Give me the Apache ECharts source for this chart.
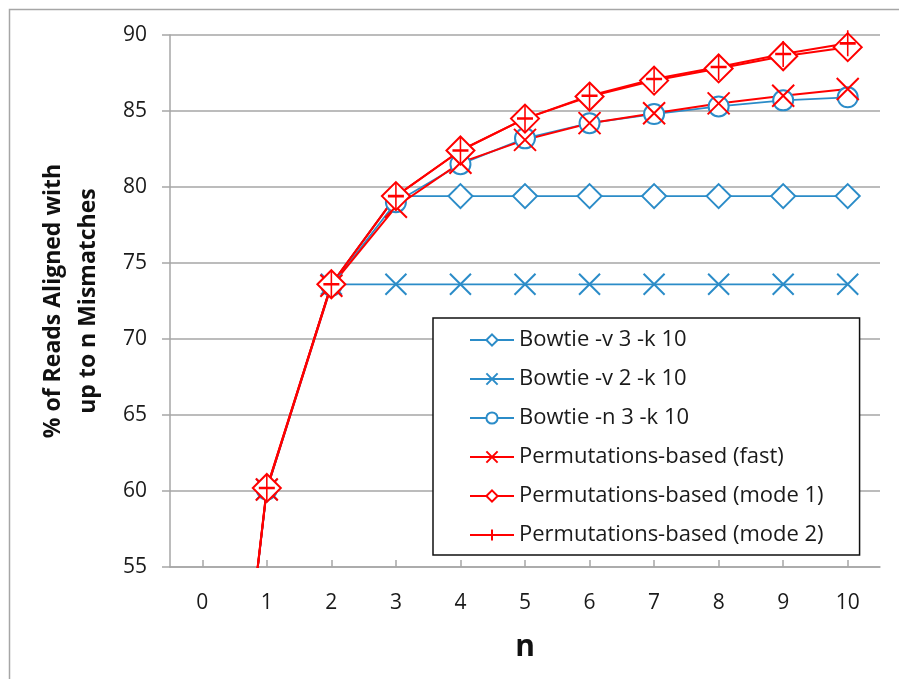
<!DOCTYPE html>
<html>
<head>
<meta charset="utf-8">
<script src="https://cdn.jsdelivr.net/npm/echarts@6/dist/echarts.min.js"></script>
<style>
html,body{margin:0;padding:0;background:#fff;}
#chart{width:899px;height:679px;}
</style>
</head>
<body>
<div id="chart"></div>
<script>
var categories = ['0','1','2','3','4','5','6','7','8','9','10'];
var bowtieV3  = [23.5, 60.1, 73.6, 79.4, 79.4, 79.4, 79.4, 79.4, 79.4, 79.4, 79.4];
var bowtieV2  = [23.5, 60.1, 73.6, 73.6, 73.6, 73.6, 73.6, 73.6, 73.6, 73.6, 73.6];
var bowtieN3  = [23.5, 60.1, 73.5, 79.0, 81.5, 83.2, 84.2, 84.8, 85.3, 85.7, 85.9];
var permFast  = [23.5, 60.1, 73.5, 78.7, 81.6, 83.1, 84.2, 84.85, 85.5, 86.0, 86.45];
var permMode1 = [23.5, 60.2, 73.6, 79.4, 82.4, 84.5, 85.95, 87.0, 87.8, 88.6, 89.2];
var permMode2 = [23.5, 60.2, 73.6, 79.4, 82.4, 84.5, 86.0, 87.1, 87.9, 88.75, 89.45];
var seriesNames = ['Bowtie -v 3 -k 10','Bowtie -v 2 -k 10','Bowtie -n 3 -k 10',
  'Permutations-based (fast)','Permutations-based (mode 1)','Permutations-based (mode 2)'];

var BLUE = '#2b8cc8', RED = '#ff0000';
var FONT = '"Open Sans", "Noto Sans", sans-serif';
var X_PATH = 'emptypath://M0,0L10,10M10,0L0,10';
var PLUS_PATH = 'emptypath://M0,5L10,5M5,0L5,10';

function mk(name, data, color, symbol, size, bw, lw) {
  return {
    name: name, type: 'line', data: data, clip: true,
    symbol: symbol, symbolSize: size, showAllSymbol: true,
    lineStyle: {color: color, width: lw},
    itemStyle: {color: color, borderColor: color, borderWidth: bw},
    emphasis: {disabled: true}
  };
}

var chart = echarts.init(document.getElementById('chart'));
chart.setOption({
  animation: false,
  backgroundColor: '#fff',
  graphic: [{
    type: 'polyline', silent: true,
    shape: {points: [[9.5, 700], [9.5, 9.5], [920, 9.5]]},
    style: {stroke: '#a6a6a6', lineWidth: 1.5, fill: null}
  }],
  grid: {left: 170, right: 19, top: 35, bottom: 112, containLabel: false},
  xAxis: {
    type: 'category', data: categories, boundaryGap: true,
    name: 'n', nameLocation: 'middle', nameGap: 65,
    nameTextStyle: {fontFamily: FONT, fontSize: 30, fontWeight: 'bold', color: '#111'},
    axisLine: {show: true, lineStyle: {color: '#a6a6a6', width: 1.5}},
    axisTick: {show: true, inside: true, length: 7, alignWithLabel: true, lineStyle: {color: '#a6a6a6', width: 1.5}},
    axisLabel: {fontFamily: FONT, fontSize: 21, color: '#1a1a1a', margin: 26},
    splitLine: {show: false}
  },
  yAxis: {
    type: 'value', min: 55, max: 90, interval: 5,
    name: '% of Reads Aligned with\nup to n Mismatches',
    nameLocation: 'middle', nameGap: 64, nameRotate: 90,
    nameTextStyle: {fontFamily: FONT, fontSize: 23, fontWeight: 'bold', color: '#111', lineHeight: 35, align: 'center'},
    axisLine: {show: true, lineStyle: {color: '#a6a6a6', width: 1.5}},
    axisTick: {show: true, inside: false, length: 8, lineStyle: {color: '#a6a6a6', width: 1.5}},
    axisLabel: {fontFamily: FONT, fontSize: 21, color: '#1a1a1a', margin: 23},
    splitLine: {show: true, lineStyle: {color: '#a6a6a6', width: 1.5}}
  },
  legend: {
    show: true, orient: 'vertical', left: 433, top: 318,
    padding: [11, 36, 9, 36], itemGap: 17, itemWidth: 44, itemHeight: 14,
    borderColor: '#111', borderWidth: 1.5, backgroundColor: '#fff',
    textStyle: {fontFamily: FONT, fontSize: 22, color: '#1a1a1a'},
    data: seriesNames
  },
  series: [
    mk(seriesNames[0], bowtieV3, BLUE, 'emptyDiamond', 24, 2.5, 1.8),
    mk(seriesNames[1], bowtieV2, BLUE, X_PATH, 21, 2.5, 1.8),
    mk(seriesNames[2], bowtieN3, BLUE, 'emptyCircle', 20, 4, 1.8),
    mk(seriesNames[3], permFast, RED, X_PATH, 22, 2.5, 2),
    mk(seriesNames[4], permMode1, RED, 'emptyDiamond', 28, 2.5, 2),
    mk(seriesNames[5], permMode2, RED, PLUS_PATH, [16, 26], 2, 2)
  ]
});
</script>
</body>
</html>
